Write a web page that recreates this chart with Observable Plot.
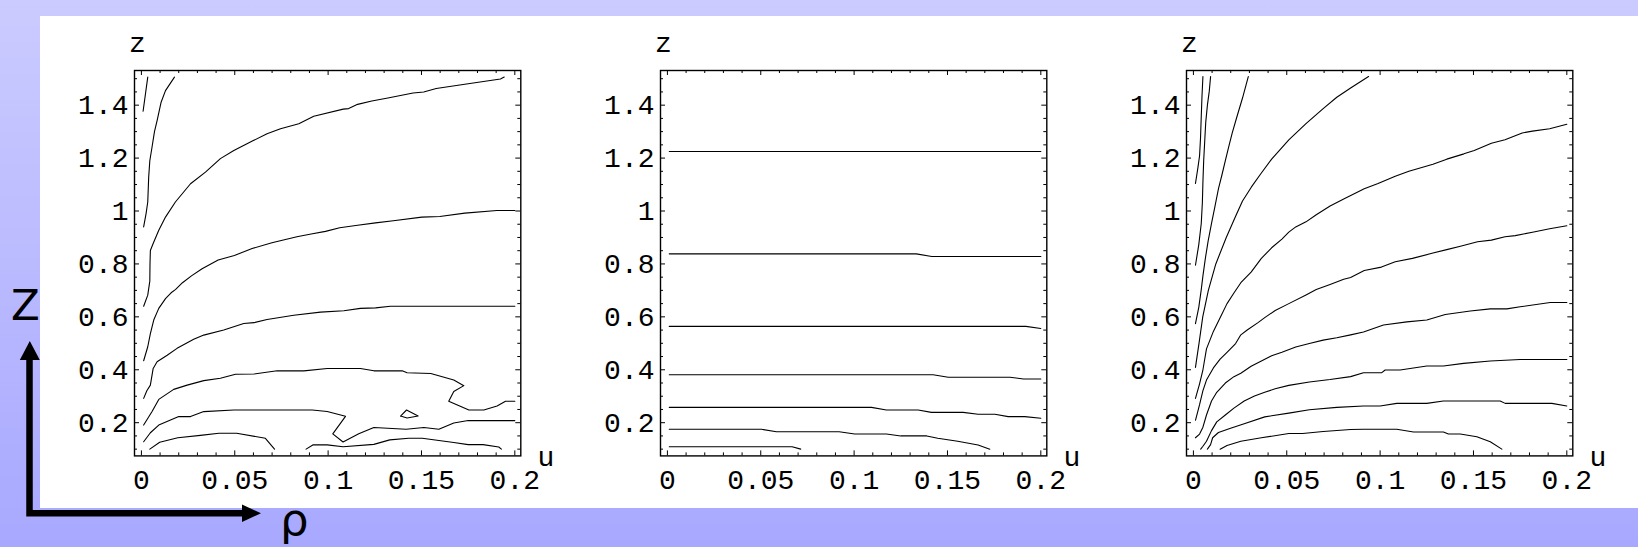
<!DOCTYPE html>
<html>
<head>
<meta charset="utf-8">
<script src="https://cdn.jsdelivr.net/npm/d3@7"></script>
<script src="https://cdn.jsdelivr.net/npm/@observablehq/plot@0.6"></script>
<style>
html, body { margin: 0; padding: 0; background: #fff; }
#slide { position: relative; width: 1638px; height: 547px; overflow: hidden;
  background: linear-gradient(to bottom, #cbcbff, #a8a8ff); }
#white { position: absolute; left: 40px; top: 16px; width: 1598px; height: 492px; background: #fff; }
.panel { position: absolute; top: 16px; }
#deco { position: absolute; left: 0; top: 0; }
</style>
</head>
<body>
<div id="slide">
  <div id="white"></div>
  <div id="p1" class="panel"></div>
  <div id="p2" class="panel"></div>
  <div id="p3" class="panel"></div>
  <svg id="deco" width="1638" height="547">
    <path d="M29.5,358 V513.3 H243" fill="none" stroke="#000" stroke-width="6.5" stroke-linejoin="miter"/>
    <polygon points="29.8,341 19.8,360 39.8,360" fill="#000"/>
    <polygon points="261,513.3 242,504.5 242,522.1" fill="#000"/>
    <text x="11" y="320" font-family="DejaVu Sans" font-size="42" fill="#000">Z</text>
    <text x="280" y="535" font-family="DejaVu Sans" font-size="45" fill="#000">ρ</text>
  </svg>
</div>
<script>
// ---- axes / ticks ----
const xTicks = [0, 0.05, 0.1, 0.15, 0.2];
const xTickLabels = ["0", "0.05", "0.1", "0.15", "0.2"];
const xMinorTicks = [0.01, 0.02, 0.03, 0.04, 0.06, 0.07, 0.08, 0.09, 0.11, 0.12, 0.13, 0.14, 0.16, 0.17, 0.18, 0.19];
const yTicks = [0.2, 0.4, 0.6, 0.8, 1, 1.2, 1.4];
const yTickLabels = ["0.2", "0.4", "0.6", "0.8", "1", "1.2", "1.4"];
const yMinorTicks = [0.1, 0.15, 0.25, 0.3, 0.35, 0.45, 0.5, 0.55, 0.65, 0.7, 0.75, 0.85, 0.9, 0.95, 1.05, 1.1, 1.15, 1.25, 1.3, 1.35, 1.45, 1.5];
const xLabel = "u";
const yLabel = "z";

// ---- panel 1 contour lines [u, z] ----
const panel1 = [
  [[0.0009,1.377],[0.0034,1.506]],
  [[0.0012,0.94],[0.0025,0.99],[0.0034,1.034],[0.0039,1.128],[0.0045,1.19],[0.0057,1.242],[0.007,1.30],[0.0084,1.342],[0.0105,1.41],[0.0129,1.455],[0.0177,1.506]],
  [[0.0012,0.64],[0.0034,0.682],[0.0045,0.735],[0.0046,0.80],[0.0048,0.851],[0.0063,0.877],[0.0093,0.927],[0.0129,0.977],[0.0182,1.034],[0.0263,1.103],[0.0343,1.147],[0.0423,1.198],[0.0495,1.229],[0.0602,1.267],[0.0673,1.292],[0.0745,1.311],[0.0843,1.330],[0.0923,1.358],[0.1081,1.385],[0.111,1.387],[0.1158,1.403],[0.1234,1.416],[0.132,1.427],[0.1455,1.446],[0.1512,1.450],[0.1579,1.463],[0.1732,1.479],[0.1923,1.499],[0.1943,1.506]],
  [[0.0012,0.434],[0.0034,0.487],[0.0048,0.537],[0.0066,0.588],[0.0093,0.632],[0.0129,0.669],[0.0159,0.691],[0.0182,0.703],[0.022,0.729],[0.0268,0.755],[0.0325,0.782],[0.0411,0.815],[0.0498,0.832],[0.0593,0.858],[0.0699,0.880],[0.0833,0.903],[0.0909,0.913],[0.0986,0.923],[0.1062,0.937],[0.1158,0.946],[0.1254,0.955],[0.1349,0.963],[0.1502,0.977],[0.1598,0.979],[0.1732,0.992],[0.1904,1.002],[0.2,1.002]],
  [[0.0012,0.292],[0.0029,0.321],[0.0048,0.342],[0.0063,0.405],[0.0084,0.430],[0.0138,0.455],[0.0191,0.481],[0.028,0.515],[0.0334,0.531],[0.0441,0.550],[0.0548,0.575],[0.0603,0.578],[0.0673,0.590],[0.0816,0.606],[0.0959,0.618],[0.1084,0.623],[0.1173,0.632],[0.1254,0.634],[0.1334,0.640],[0.2,0.640]],
  [[0.0012,0.191],[0.0057,0.242],[0.0093,0.288],[0.0173,0.326],[0.0245,0.342],[0.0334,0.359],[0.0423,0.368],[0.0504,0.383],[0.0602,0.384],[0.0727,0.396],[0.087,0.396],[0.0995,0.405],[0.1173,0.405],[0.1245,0.396],[0.1397,0.396],[0.1423,0.389],[0.155,0.386],[0.1673,0.361],[0.1727,0.340],[0.1673,0.318],[0.1646,0.281],[0.1754,0.248],[0.1834,0.248],[0.1905,0.263],[0.195,0.281],[0.2,0.281]],
  [[0.0012,0.128],[0.0048,0.162],[0.0093,0.191],[0.02,0.223],[0.0263,0.223],[0.0334,0.242],[0.0495,0.248],[0.0915,0.248],[0.0995,0.242],[0.1093,0.224],[0.1025,0.158],[0.108,0.127],[0.1164,0.158],[0.1245,0.182],[0.1418,0.175],[0.1513,0.182],[0.1593,0.175],[0.1673,0.199],[0.175,0.208],[0.2,0.208]],
  [[0.1388,0.225],[0.142,0.248],[0.1482,0.225],[0.1423,0.218],[0.1388,0.225]],
  [[0.0045,0.1],[0.0098,0.126],[0.0195,0.143],[0.0316,0.152],[0.0415,0.160],[0.051,0.160],[0.0664,0.141],[0.0713,0.1]],
  [[0.0882,0.1],[0.0918,0.116],[0.0995,0.116],[0.108,0.109],[0.1245,0.118],[0.133,0.135],[0.1432,0.141],[0.1504,0.141],[0.1673,0.125],[0.175,0.117],[0.183,0.117],[0.1914,0.108],[0.1928,0.1]]
];

// ---- panel 2 contour lines ----
const panel2 = [
  [[0.001,1.225],[0.2,1.225]],
  [[0.001,0.838],[0.1333,0.838],[0.1416,0.828],[0.2,0.828]],
  [[0.001,0.564],[0.192,0.564],[0.2,0.556]],
  [[0.001,0.381],[0.1423,0.381],[0.1504,0.372],[0.1835,0.372],[0.1907,0.365],[0.2,0.365]],
  [[0.001,0.258],[0.1093,0.258],[0.1173,0.248],[0.1343,0.248],[0.1414,0.239],[0.1584,0.239],[0.1664,0.232],[0.1754,0.232],[0.1825,0.223],[0.1914,0.223],[0.2,0.217]],
  [[0.001,0.175],[0.0504,0.175],[0.0584,0.166],[0.092,0.166],[0.1003,0.157],[0.1173,0.157],[0.125,0.150],[0.1389,0.150],[0.1448,0.141],[0.1555,0.130],[0.1664,0.116],[0.1727,0.1]],
  [[0.001,0.109],[0.0668,0.109],[0.0714,0.1]]
];

// ---- panel 3 contour lines ----
const panel3 = [
  [[0.0011,1.104],[0.0024,1.163],[0.0033,1.209],[0.0038,1.275],[0.0042,1.356],[0.0046,1.435],[0.0051,1.508]],
  [[0.0011,0.795],[0.0029,0.874],[0.0042,0.953],[0.0048,1.032],[0.0051,1.111],[0.0055,1.190],[0.0061,1.269],[0.0066,1.335],[0.0075,1.400],[0.0085,1.453],[0.0092,1.508]],
  [[0.0011,0.574],[0.0029,0.637],[0.0042,0.703],[0.0051,0.755],[0.0064,0.821],[0.0079,0.887],[0.0097,0.953],[0.0116,1.019],[0.0134,1.084],[0.0153,1.137],[0.0171,1.190],[0.0189,1.242],[0.0208,1.295],[0.0235,1.361],[0.0263,1.427],[0.0294,1.508]],
  [[0.0011,0.409],[0.003,0.50],[0.005,0.60],[0.008,0.70],[0.012,0.80],[0.0176,0.90],[0.0226,0.98],[0.0263,1.038],[0.031,1.09],[0.036,1.14],[0.0419,1.196],[0.0511,1.269],[0.0603,1.33],[0.0695,1.387],[0.0768,1.43],[0.0842,1.465],[0.0938,1.508]],
  [[0.0011,0.292],[0.0033,0.347],[0.0051,0.400],[0.007,0.479],[0.0107,0.545],[0.0143,0.597],[0.018,0.650],[0.0217,0.690],[0.0254,0.729],[0.0309,0.769],[0.0364,0.821],[0.0419,0.861],[0.0474,0.894],[0.0511,0.920],[0.0548,0.940],[0.0603,0.959],[0.0658,0.986],[0.0732,1.019],[0.0805,1.045],[0.0915,1.084],[0.0989,1.104],[0.1081,1.131],[0.1154,1.150],[0.1283,1.177],[0.1357,1.196],[0.1449,1.216],[0.1504,1.229],[0.1596,1.256],[0.1669,1.269],[0.1761,1.295],[0.1816,1.302],[0.1908,1.311],[0.2,1.328]],
  [[0.0011,0.209],[0.0033,0.268],[0.0051,0.321],[0.007,0.361],[0.0107,0.407],[0.0143,0.440],[0.018,0.466],[0.0226,0.499],[0.0254,0.532],[0.029,0.551],[0.0346,0.578],[0.0382,0.597],[0.0438,0.624],[0.0511,0.650],[0.0603,0.683],[0.0658,0.703],[0.0732,0.722],[0.0805,0.742],[0.0842,0.749],[0.0915,0.775],[0.1007,0.788],[0.1081,0.808],[0.1173,0.821],[0.1283,0.841],[0.1357,0.854],[0.143,0.867],[0.1522,0.884],[0.1596,0.890],[0.1669,0.903],[0.1724,0.907],[0.1816,0.920],[0.1908,0.933],[0.2,0.944]],
  [[0.0011,0.143],[0.0033,0.157],[0.0051,0.183],[0.007,0.229],[0.0097,0.282],[0.0125,0.315],[0.0171,0.350],[0.0217,0.374],[0.0254,0.387],[0.0309,0.413],[0.0364,0.433],[0.0419,0.453],[0.0474,0.466],[0.0548,0.486],[0.0621,0.499],[0.0695,0.512],[0.0768,0.521],[0.0842,0.532],[0.0911,0.543],[0.1018,0.569],[0.1143,0.581],[0.125,0.588],[0.1349,0.609],[0.1483,0.622],[0.159,0.630],[0.1679,0.630],[0.175,0.638],[0.1911,0.654],[0.2,0.654]],
  [[0.0039,0.1],[0.0051,0.111],[0.007,0.130],[0.0097,0.170],[0.0125,0.203],[0.0171,0.229],[0.0217,0.255],[0.0272,0.282],[0.0327,0.301],[0.0382,0.315],[0.0438,0.328],[0.0511,0.341],[0.0621,0.354],[0.0732,0.363],[0.0842,0.374],[0.0911,0.389],[0.1009,0.389],[0.1027,0.399],[0.1107,0.399],[0.125,0.414],[0.1339,0.414],[0.1447,0.424],[0.159,0.433],[0.175,0.439],[0.2,0.439]],
  [[0.0075,0.1],[0.0092,0.117],[0.0103,0.143],[0.0134,0.163],[0.0199,0.179],[0.0272,0.196],[0.0382,0.222],[0.0511,0.236],[0.0621,0.249],[0.0768,0.258],[0.0911,0.263],[0.1,0.263],[0.1089,0.273],[0.125,0.273],[0.1339,0.282],[0.1643,0.282],[0.167,0.273],[0.192,0.273],[0.2,0.263]],
  [[0.0143,0.1],[0.018,0.114],[0.0254,0.130],[0.0364,0.143],[0.0511,0.159],[0.0585,0.159],[0.0695,0.167],[0.0842,0.174],[0.0911,0.175],[0.1089,0.175],[0.1179,0.165],[0.1339,0.165],[0.1366,0.157],[0.1429,0.157],[0.1518,0.147],[0.159,0.128],[0.1652,0.1]]
];

const xDomain = [-0.0037, 0.2032];
const yDomain = [0.0745, 1.531];

function makePanel(lines) {
  const data = lines.flatMap((line, i) => line.map(([u, v]) => ({u, v, id: i})));
  const W = 540, H = 492, ML = 100, MR = 53.7, MT = 54, MB = 52.6;
  const fw = W - ML - MR, fh = H - MT - MB;
  const xl = new Map(xTicks.map((d, i) => [d, xTickLabels[i]]));
  const yl = new Map(yTicks.map((d, i) => [d, yTickLabels[i]]));
  const tk = {stroke: "black", strokeWidth: 1};
  return Plot.plot({
    width: W, height: H,
    marginLeft: ML, marginRight: MR, marginTop: MT, marginBottom: MB,
    style: {background: "transparent", color: "black", fontFamily: "'Liberation Mono', monospace", fontSize: "28px", overflow: "visible"},
    x: {domain: xDomain},
    y: {domain: yDomain},
    marks: [
      Plot.line(data, {x: "u", y: "v", z: "id", stroke: "black", strokeWidth: 1.1, curve: "linear"}),
      Plot.tickX(xTicks, {x: d => d, insetTop: fh - 5, ...tk}),
      Plot.tickX(xTicks, {x: d => d, insetBottom: fh - 5, ...tk}),
      Plot.tickX(xMinorTicks, {x: d => d, insetTop: fh - 3, ...tk}),
      Plot.tickX(xMinorTicks, {x: d => d, insetBottom: fh - 3, ...tk}),
      Plot.tickY(yTicks, {y: d => d, insetRight: fw - 5, ...tk}),
      Plot.tickY(yTicks, {y: d => d, insetLeft: fw - 5, ...tk}),
      Plot.tickY(yMinorTicks, {y: d => d, insetRight: fw - 3, ...tk}),
      Plot.tickY(yMinorTicks, {y: d => d, insetLeft: fw - 3, ...tk}),
      Plot.frame({stroke: "black", strokeWidth: 1.4}),
      Plot.axisX(xTicks, {anchor: "bottom", tickSize: 0, tickPadding: 13, tickFormat: d => xl.get(d), fontSize: 28, label: null}),
      Plot.axisY(yTicks, {anchor: "left", tickSize: 0, tickPadding: 6, tickFormat: d => yl.get(d), fontSize: 28, label: null}),
      Plot.text([yLabel], {frameAnchor: "top-left", text: d => d, dx: 3, dy: -27, fontSize: 28, lineAnchor: "middle", textAnchor: "middle"}),
      Plot.text([xLabel], {frameAnchor: "bottom-right", text: d => d, dx: 25, dy: 1, fontSize: 28, lineAnchor: "middle", textAnchor: "middle"})
    ]
  });
}

const frameLefts = [134, 660, 1185.5];
[panel1, panel2, panel3].forEach((lines, i) => {
  const el = document.getElementById("p" + (i + 1));
  el.style.left = (frameLefts[i] - 100) + "px";
  el.appendChild(makePanel(lines));
});
</script>
</body>
</html>
